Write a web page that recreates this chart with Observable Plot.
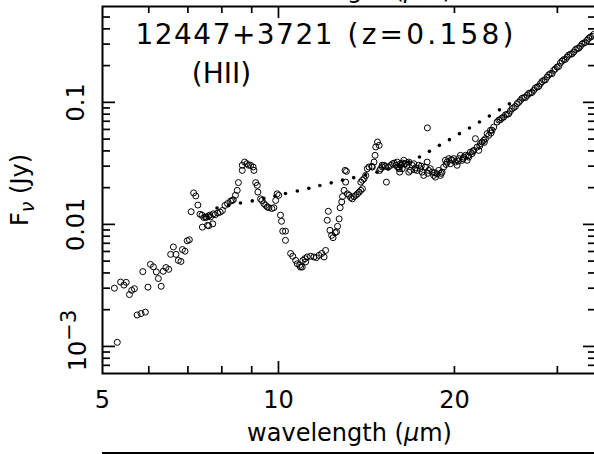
<!DOCTYPE html>
<html>
<head>
<meta charset="utf-8">
<script src="https://cdn.jsdelivr.net/npm/d3@7"></script>
<script src="https://cdn.jsdelivr.net/npm/@observablehq/plot@0.6"></script>
<style>
html, body { margin: 0; padding: 0; background: #fff; overflow: hidden; width: 594px; height: 454px; }
svg { display: block; }
</style>
</head>
<body>
<script>
// ---- observed spectrum (open circles): wavelength (micron), flux density (Jy)
const wavelength = [
  5.24,5.30,5.37,5.44,5.49,5.56,5.61,5.67,5.73,5.82,5.86,5.92,5.98,6.04,6.11,6.18,6.23,6.30,6.35,6.42,
  6.49,6.54,6.61,6.68,6.74,6.81,6.85,6.92,6.98,7.04,7.09,7.16,7.22,7.28,7.34,7.41,7.45,7.51,7.59,7.60,
  7.40,7.53,7.63,7.56,7.72,7.65,7.74,7.79,7.87,7.95,8.02,8.10,8.18,8.28,8.33,8.37,8.44,8.50,8.54,8.67,
  8.67,8.75,8.83,8.89,8.96,9.05,9.08,9.14,9.20,9.22,9.32,9.37,9.44,9.51,9.57,9.63,9.74,9.82,9.89,9.95,
  10.01,10.08,10.12,10.17,10.28,10.28,10.49,10.58,10.70,10.77,10.91,11.01,11.10,
  10.87,10.98,11.13,11.20,11.35,11.50,11.61,11.73,11.86,11.97,12.04,12.12,12.17,12.25,12.33,12.40,12.50,12.57,12.62,12.70,12.75,
  12.83,12.87,12.95,13.03,13.07,13.00,13.12,13.21,13.29,13.38,13.47,13.56,13.65,13.74,13.83,13.92,13.83,13.92,14.01,14.10,
  14.19,14.28,14.44,14.47,14.57,14.63,14.67,14.77,14.87,14.90,14.96,15.05,15.06,15.16,15.24,15.30,15.42,15.57,15.67,15.78,
  15.88,15.99,16.09,16.19,16.30,16.41,
  15.96,16.06,16.17,16.28,16.38,16.49,16.60,16.71,16.82,16.93,17.04,17.15,17.27,17.38,17.49,17.61,17.72,17.84,17.96,18.07,
  18.19,18.32,18.43,18.56,18.68,18.80,18.93,19.05,19.17,19.30,19.43,19.56,19.69,19.82,19.94,20.08,20.21,20.34,20.48,20.62,
  20.75,20.89,21.03,21.16,21.30,21.44,21.58,21.72,21.87,22.01,22.16,22.30,22.45,22.60,22.75,22.89,23.05,23.20,23.35,17.98,
  16.12,16.71,17.10,17.55,18.00,18.50,18.98,19.35,19.75,20.30,20.70,21.10,21.50,22.10,22.50,23.10,
  23.66,23.97,24.28,24.61,24.93,25.26,25.60,25.94,26.28,26.63,26.98,27.33,27.70,28.06,28.43,28.81,29.19,29.57,29.97,30.36,
  30.76,31.17,31.58,32.00,32.43,32.85,33.28,33.73,34.17,34.62,
  23.82,24.12,24.45,24.77,25.10,25.43,25.77,26.11,26.45,26.80,27.15,27.51,27.88,28.24,28.62,29.00,29.38,29.77,30.16,30.56,
  30.96,31.37,31.79,32.21,32.64,33.06,33.50,33.95,34.40
];
const flux = [
  0.00300,0.00108,0.00337,0.00318,0.00335,0.00266,0.00288,0.00297,0.00181,0.00186,0.00410,0.00191,0.00306,0.00470,0.00449,0.00408,0.00360,0.00311,0.00413,0.00443,
  0.00428,0.00568,0.00653,0.00568,0.00507,0.00497,0.00622,0.00603,0.00734,0.00748,0.0127,0.0181,0.0171,0.0144,0.0121,0.00950,0.0114,0.0114,0.0117,0.00975,
  0.0119,0.0115,0.0119,0.00982,0.0101,0.0115,0.0122,0.0120,0.0124,0.0126,0.0130,0.0143,0.0148,0.0155,0.0157,0.0159,0.0173,0.0190,0.0220,0.0277,
  0.0305,0.0324,0.0314,0.0305,0.0305,0.0295,0.0277,0.0220,0.0209,0.0184,0.0162,0.0157,0.0148,0.0143,0.0139,0.0137,0.0135,0.0137,0.0157,0.0178,
  0.0173,0.0119,0.0106,0.00880,0.00880,0.00740,0.00578,0.00548,0.00507,0.00476,0.00447,0.00507,0.00524,
  0.00461,0.00447,0.00493,0.00541,0.00548,0.00541,0.00534,0.00557,0.00578,0.00541,0.00612,0.0108,0.0128,0.00894,0.00813,0.00778,0.00855,0.00869,0.00964,0.0111,0.0137,
  0.0153,0.0169,0.0190,0.0222,0.0272,0.0277,0.0178,0.0173,0.0166,0.0162,0.0169,0.0173,0.0178,0.0184,0.0190,0.0196,0.0222,0.0230,0.0237,0.0252,
  0.0286,0.0295,0.0299,0.0295,0.0324,0.0368,0.0431,0.0473,0.0444,0.0277,0.0286,0.0305,0.0295,0.0305,0.0299,0.0222,0.0295,0.0305,0.0314,0.0318,
  0.0305,0.0295,0.0286,0.0305,0.0318,0.0314,
  0.0324,0.0295,0.0314,0.0286,0.0335,0.0314,0.0305,0.0324,0.0277,0.0305,0.0314,0.0291,0.0277,0.0305,0.0286,0.0268,0.0252,0.0295,0.0324,0.0277,
  0.0286,0.0268,0.0252,0.0244,0.0260,0.0277,0.0252,0.0268,0.0295,0.0335,0.0324,0.0346,0.0314,0.0335,0.0346,0.0324,0.0305,0.0346,0.0368,0.0335,
  0.0356,0.0368,0.0335,0.0356,0.0391,0.0380,0.0404,0.0504,0.0430,0.0404,0.0459,0.0473,0.0488,0.0504,0.0554,0.0536,0.0590,0.0590,0.0627,0.0617,
  0.0268,0.0268,0.0280,0.0300,0.0262,0.0265,0.0262,0.0310,0.0340,0.0330,0.0345,0.0365,0.0395,0.0440,0.0470,0.0560,
  0.0690,0.0721,0.0757,0.0797,0.0849,0.0905,0.0976,0.1038,0.1093,0.1141,0.1192,0.1254,0.1335,0.1423,0.1515,0.1612,0.1718,0.1829,0.1947,0.2099,
  0.2239,0.2351,0.2474,0.2584,0.2755,0.2877,0.3062,0.3222,0.3428,0.3608,
  0.0715,0.0745,0.0790,0.0805,0.0890,0.0925,0.1000,0.1080,0.1095,0.1185,0.1205,0.1310,0.1350,0.1480,0.1530,0.1680,0.1720,0.1880,0.1970,0.2180,
  0.2250,0.2440,0.2500,0.2700,0.2780,0.3000,0.3100,0.3350,0.3480
];

// ---- model continuum (dotted): wavelength (micron), flux (Jy)
const modelWavelength = [7.85,8.22,8.61,9.02,9.44,9.86,10.28,10.77,11.27,11.77,12.31,12.87,13.45,14.09,14.74,15.40,16.04,16.72,17.43,18.12,18.85,19.61,20.40,21.22,22.07,22.95,23.88,24.83];
const modelFlux = [0.01363,0.01426,0.01495,0.01558,0.01633,0.01706,0.01789,0.01875,0.01973,0.0208,0.02189,0.02304,0.02414,0.02544,0.02679,0.0284,0.03028,0.03253,0.03561,0.03966,0.04441,0.04946,0.05538,0.06155,0.06896,0.07719,0.0868,0.0972];

// ---- ticks and labels
const xTickLabels = [5, 10, 20];
const xMajorTicks = [10];
const xMinorTicks = [6, 7, 8, 9, 20, 30];
const yTickLabels = [0.1, 0.01];
const yTickLabelText = ["0.1", "0.01"];
const yPowerTick = [0.001];
const yMajorTicks = [0.001, 0.01, 0.1];
const yMinorTicks = [0.0007,0.0008,0.0009,0.002,0.003,0.004,0.005,0.006,0.007,0.008,0.009,
                     0.02,0.03,0.04,0.05,0.06,0.07,0.08,0.09,0.2,0.3,0.4,0.5];
const titleName = "12447+3721";
const titleRedshift = "(z=0.158)";
const titleType = "(HII)";
const xLabel = "wavelength (μm)";
const yLabel = "Fν (Jy)";

const data = wavelength.map((w, i) => ({w, f: flux[i]}));
const model = modelWavelength.map((w, i) => ({w, f: modelFlux[i]}));

const W = 594, H = 454, mL = 102, mR = -2, mT = 6, mB = 81;
const fw = W - mL - mR, fh = H - mT - mB;
const font = "'DejaVu Sans', sans-serif";
const tw = 1.7;

const svg = Plot.plot({
  width: W, height: H,
  marginLeft: mL, marginRight: mR, marginTop: mT, marginBottom: mB,
  style: {fontFamily: font, background: "white", color: "black"},
  x: {type: "log", domain: [5, 35], axis: null},
  y: {type: "log", domain: [6e-4, 0.61], axis: null},
  marks: [
    Plot.ruleX(xMajorTicks, {x: d => d, insetTop: fh - 12, stroke: "black", strokeWidth: tw}),
    Plot.ruleX(xMinorTicks, {x: d => d, insetTop: fh - 7, stroke: "black", strokeWidth: tw}),
    Plot.ruleX(xMajorTicks, {x: d => d, insetBottom: fh - 12, stroke: "black", strokeWidth: tw}),
    Plot.ruleX(xMinorTicks, {x: d => d, insetBottom: fh - 7, stroke: "black", strokeWidth: tw}),
    Plot.ruleY(yMajorTicks, {y: d => d, insetRight: fw - 13, stroke: "black", strokeWidth: tw}),
    Plot.ruleY(yMinorTicks, {y: d => d, insetRight: fw - 8, stroke: "black", strokeWidth: tw}),
    Plot.ruleY(yMajorTicks, {y: d => d, insetLeft: fw - 13, stroke: "black", strokeWidth: tw}),
    Plot.ruleY(yMinorTicks, {y: d => d, insetLeft: fw - 8, stroke: "black", strokeWidth: tw}),
    Plot.frame({stroke: "black", strokeWidth: 2}),
    Plot.dot(model, {x: "w", y: "f", r: 1.8, fill: "black", stroke: "none"}),
    Plot.dot(data, {x: "w", y: "f", r: 3, fill: "none", stroke: "black", strokeWidth: 1}),
    // x tick labels
    Plot.text(xTickLabels, {x: d => d, frameAnchor: "bottom", dy: 34, lineAnchor: "bottom",
      textAnchor: "middle", text: d => String(d), fontSize: 24, fill: "black"}),
    // y tick labels (rotated)
    Plot.text(yTickLabels, {y: d => d, frameAnchor: "left", dx: -19, rotate: -90, lineAnchor: "bottom",
      textAnchor: "middle", text: (d, i) => yTickLabelText[i], fontSize: 24, fill: "black"}),
    Plot.text(yPowerTick, {y: d => d, frameAnchor: "left", dx: -17, dy: -6, rotate: -90, lineAnchor: "bottom",
      textAnchor: "middle", text: () => "10^-3", fontSize: 24, fill: "black"}),
    // axis labels
    Plot.text([xLabel], {frameAnchor: "bottom", dy: 67, lineAnchor: "bottom", textAnchor: "middle",
      text: d => d, fontSize: 24, fill: "black"}),
    Plot.text([xLabel], {frameAnchor: "top", dy: -9, lineAnchor: "bottom", textAnchor: "middle",
      text: d => d, fontSize: 24, fill: "black"}),
    Plot.text([yLabel], {frameAnchor: "left", dx: -75, rotate: -90, lineAnchor: "bottom", textAnchor: "middle",
      text: d => d, fontSize: 24, fill: "black"}),
    // title
    Plot.text([titleName], {frameAnchor: "top-left", dx: 33, dy: 37, lineAnchor: "bottom", textAnchor: "start",
      text: d => d, fontSize: 28, fill: "black"}),
    Plot.text([titleRedshift], {frameAnchor: "top-left", dx: 245, dy: 37, lineAnchor: "bottom", textAnchor: "start",
      text: d => d, fontSize: 28, fill: "black"}),
    Plot.text([titleType], {frameAnchor: "top-left", dx: 119, dy: 76, lineAnchor: "bottom", textAnchor: "middle",
      text: d => d, fontSize: 28, fill: "black"})
  ]
});

// rich text post-processing (sub/superscripts, italic greek)
const NS = "http://www.w3.org/2000/svg";
function rich(node, parts) {
  node.textContent = "";
  for (const p of parts) {
    const t = document.createElementNS(NS, "tspan");
    t.textContent = p.t;
    if (p.dy != null) t.setAttribute("dy", p.dy);
    if (p.size) t.setAttribute("font-size", p.size);
    if (p.italic) t.setAttribute("font-style", "italic");
    node.appendChild(t);
  }
}
d3.select(svg).selectAll("text").each(function() {
  const s = this.textContent;
  if (s === "10^-3") rich(this, [{t: "10"}, {t: "−3", dy: -10, size: 21}]);
  else if (s === yLabel) rich(this, [{t: "F"}, {t: "ν", dy: 6, size: 19, italic: true}, {t: " (Jy)", dy: -6}]);
  else if (s === xLabel) rich(this, [{t: "wavelength ("}, {t: "μ", italic: true}, {t: "m)"}]);
  else if (s === titleName) { this.setAttribute("textLength", 197); this.setAttribute("lengthAdjust", "spacing"); }
  else if (s === titleRedshift) { this.setAttribute("textLength", 166); this.setAttribute("lengthAdjust", "spacing"); }
});
// frame edge of the next panel below
d3.select(svg).append("line").attr("x1", mL).attr("x2", W + 2).attr("y1", 453).attr("y2", 453)
  .attr("stroke", "black").attr("stroke-width", 2);

document.body.appendChild(svg);
</script>
</body>
</html>
